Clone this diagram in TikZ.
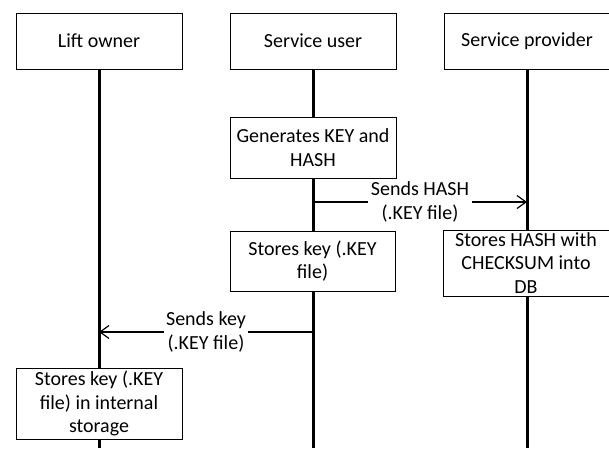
\documentclass[tikz,border=0pt]{standalone}
\usepackage{fontspec}
\setmainfont{Carlito}
\usepackage{tikz}
\usetikzlibrary{arrows.meta}
\newcommand\lifeline[1]{
  \draw[line width=3pt] (#1.south) -- (#1 |- 0,448);
}

\begin{document}
\begin{tikzpicture}[x=1pt,y=-1pt,
    font=\fontsize{20}{23.5}\selectfont,
    actor/.style={draw,line width=1pt,fill=white,minimum width=166pt,minimum height=56pt,inner sep=2pt},
    act/.style={draw,line width=1pt,fill=white,align=center,minimum width=166pt,inner sep=2pt},
    msg/.style={line width=1.2pt,-{Straight Barb[length=9pt,width=13pt]}},
    msglabel/.style={midway,fill=white,align=center,inner sep=2.5pt}]
      \useasboundingbox (0,0) rectangle (609,448);

      \node[actor] (lo) at (99,41) {Lift owner};
      \node[actor] (su) at (313,41) {Service user};
      \node[actor] (sp) at (527,41) {Service provider};

      \lifeline{lo}
      \lifeline{su}
      \lifeline{sp}

      \node[act,minimum height=61pt] (gen) at (313,147.5) {Generates KEY and\\HASH};
      \coordinate (hashfrom) at (313,202);
      \coordinate (hashto) at (527,202);
      \draw[msg] (hashfrom) -- (hashto) node[msglabel]{Sends HASH\\(.KEY file)};

      \node[act,minimum height=60pt,minimum width=165pt] (storesu) at (312.5,261) {Stores key (.KEY\\file)};
      \node[act,minimum height=66pt,inner sep=0pt] (storesp) at (526,263) {Stores HASH with\\CHECKSUM into\\DB};

      \coordinate (keyfrom) at (313,332);
      \coordinate (keyto) at (99,332);
      \draw[msg] (keyfrom) -- (keyto) node[msglabel]{Sends key\\(.KEY file)};

      \node[act,minimum height=71pt] (storelo) at (99,403.5) {Stores key (.KEY\\file) in internal\\storage};

    \end{tikzpicture}
\end{document}
